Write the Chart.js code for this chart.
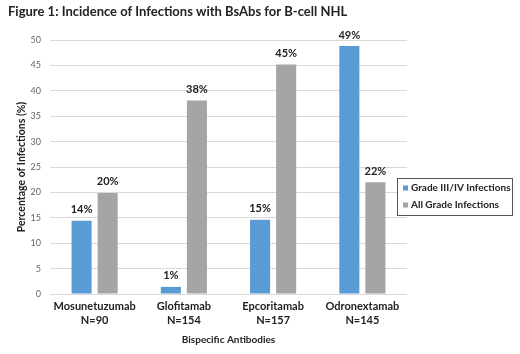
<!DOCTYPE html>
<html>
<head>
<meta charset="utf-8">
<script src="https://cdn.jsdelivr.net/npm/chart.js@4/dist/chart.umd.min.js"></script>
<style>
  html, body { margin: 0; padding: 0; background: #fff; }
  #wrap { width: 520px; height: 354px; position: relative; }
</style>
</head>
<body>
<div id="wrap"><canvas id="c" width="520" height="354"></canvas></div>
<script>
const categories = [["Mosunetuzumab", "N=90"], ["Glofitamab", "N=154"], ["Epcoritamab", "N=157"], ["Odronextamab", "N=145"]];
const seriesNames = ["Grade III/IV Infections", "All Grade Infections"];
const gradeIIIIV = [14.4, 1.4, 14.6, 48.8];
const allGrade = [19.9, 38.1, 45.2, 22.0];
const gradeIIIIVLabels = ["14%", "1%", "15%", "49%"];
const allGradeLabels = ["20%", "38%", "45%", "22%"];
const yTicks = [0, 5, 10, 15, 20, 25, 30, 35, 40, 45, 50];

const FONT = "Lato, 'Open Sans', 'Liberation Sans', sans-serif";
const BLUE = "#5B9BD5";
const GRAY = "#A5A5A5";

const titlePlugin = {
  id: 'titleText',
  afterDraw(chart) {
    const ctx = chart.ctx;
    ctx.save();
    ctx.font = "bold 13px " + FONT;
    ctx.fillStyle = "#222";
    ctx.textBaseline = "middle";
    ctx.textAlign = "left";
    ctx.fillText("Figure 1: Incidence of Infections with BsAbs for B-cell NHL", 8, 12);
    ctx.restore();
  }
};

const labelPlugin = {
  id: 'barLabels',
  afterDatasetsDraw(chart) {
    const ctx = chart.ctx;
    const labelSets = [gradeIIIIVLabels, allGradeLabels];
    ctx.save();
    ctx.font = "bold 11px " + FONT;
    ctx.fillStyle = "#222";
    ctx.textAlign = "center";
    ctx.textBaseline = "middle";
    chart.data.datasets.forEach((ds, di) => {
      const meta = chart.getDatasetMeta(di);
      meta.data.forEach((bar, i) => {
        ctx.fillText(labelSets[di][i], bar.x, bar.y - 11);
      });
    });
    ctx.restore();
  }
};

const legendPlugin = {
  id: 'boxLegend',
  afterDraw(chart) {
    const ctx = chart.ctx;
    const x = 397, y = 178, w = 115, h = 37;
    ctx.save();
    ctx.fillStyle = "#fff";
    ctx.fillRect(x, y, w, h);
    ctx.strokeStyle = "#555";
    ctx.lineWidth = 1;
    ctx.strokeRect(x + 0.5, y + 0.5, w, h);
    ctx.font = "bold 10px " + FONT;
    ctx.textBaseline = "middle";
    ctx.textAlign = "left";
    const colors = [BLUE, GRAY];
    seriesNames.forEach((name, i) => {
      const cy = y + 10 + i * 17;
      ctx.fillStyle = colors[i];
      ctx.fillRect(x + 6, cy - 2.5, 5, 5);
      ctx.fillStyle = "#222";
      ctx.fillText(name, x + 14, cy);
    });
    ctx.restore();
  }
};

new Chart(document.getElementById('c'), {
  type: 'bar',
  data: {
    labels: categories,
    datasets: [
      { label: seriesNames[0], data: gradeIIIIV, backgroundColor: BLUE, categoryPercentage: 0.584, barPercentage: 0.77 },
      { label: seriesNames[1], data: allGrade, backgroundColor: GRAY, categoryPercentage: 0.584, barPercentage: 0.77 }
    ]
  },
  options: {
    responsive: false,
    animation: false,
    devicePixelRatio: 1,
    layout: { padding: { top: 40, right: 113, left: 0, bottom: 0 } },
    plugins: {
      legend: { display: false },
      tooltip: { enabled: false },
      title: { display: false }
    },
    scales: {
      x: {
        grid: { display: false, drawTicks: false },
        border: { display: false },
        ticks: {
          color: "#222",
          font: { family: FONT, size: 11, weight: 'bold', lineHeight: 1.25 },
          padding: 6,
          maxRotation: 0,
          autoSkip: false
        },
        title: {
          display: true,
          text: "Bispecific Antibodies",
          color: "#222",
          font: { family: FONT, size: 10, weight: 'bold' },
          padding: { top: 6, bottom: 8 }
        },
        afterFit(scale) { scale.height = 60; }
      },
      y: {
        min: 0, max: 50,
        afterBuildTicks(scale) { scale.ticks = yTicks.map(v => ({ value: v })); },
        grid: { color: "#D9D9D9", drawTicks: false, lineWidth: 1 },
        border: { display: false },
        ticks: {
          color: "#666",
          font: { family: FONT, size: 9 },
          padding: 9
        },
        title: {
          display: true,
          text: "Percentage of Infections (%)",
          color: "#222",
          font: { family: FONT, size: 10.5, weight: 'bold' },
          padding: { top: 15, bottom: 0 }
        },
        afterFit(scale) { scale.width = 50; }
      }
    }
  },
  plugins: [titlePlugin, labelPlugin, legendPlugin]
});
</script>
</body>
</html>
